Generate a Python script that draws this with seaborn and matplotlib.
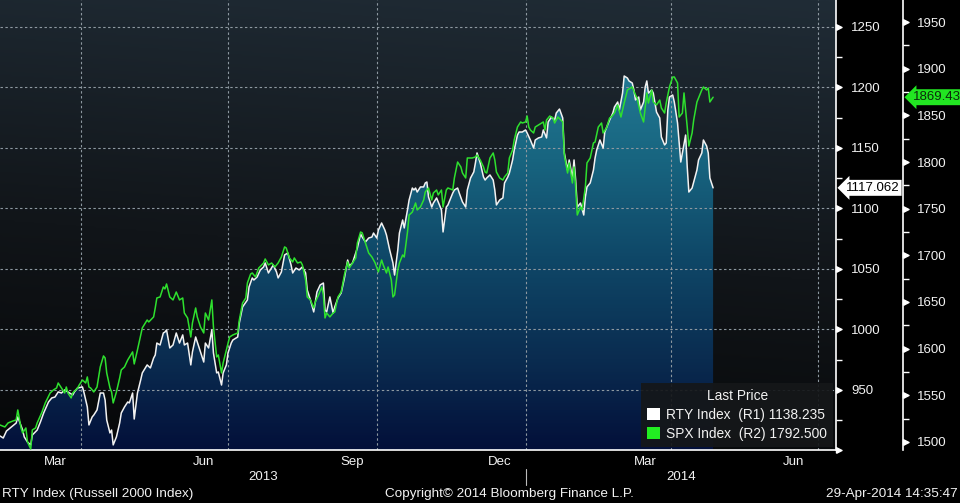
import numpy as np
import pandas as pd
import matplotlib
matplotlib.use("Agg")
import matplotlib.pyplot as plt
import matplotlib.dates as mdates
import matplotlib.transforms as mtrans
from matplotlib.colors import LinearSegmentedColormap
from matplotlib.patches import Patch
from matplotlib import font_manager
import seaborn as sns

# ---------------- data ----------------
BASE_DATE = "2013-02-10"   # day offsets below count from this date

rty_days = [0,2,4,7,10,11,14,15,17,19,20,23,25,27,30,32,34,36,38,40,42,45,46,48,51,52,54,55,57,58,60,62,64,65,66,68,69,70,72,74,75,77,79,80,82,83,85,87,88,91,93,95,96,97,99,101,102,103,105,107,109,111,113,114,116,118,119,121,123,126,127,129,131,132,134,135,137,138,140,141,143,144,147,148,150,153,154,156,157,159,161,163,164,166,169,171,172,174,176,178,180,181,183,185,187,189,190,192,194,195,196,198,200,201,202,204,206,207,209,211,213,215,216,218,221,223,224,226,228,230,231,233,234,236,238,239,241,243,244,246,247,249,250,252,253,255,256,257,258,260,262,263,264,265,267,268,270,271,273,274,276,277,280,281,283,284,286,288,289,291,293,294,295,297,299,300,301,303,305,306,307,309,311,312,314,315,317,318,320,321,323,325,326,328,330,331,333,335,336,338,339,341,343,344,346,348,349,351,352,354,355,356,357,359,361,362,363,365,367,368,369,371,373,374,375,377,379,380,382,383,385,386,388,389,391,392,393,395,396,398,399,400,401,403,404,406,408,409,411,412,413,414,416,417,419,421,422,424,425,426,428,429,431,432,434,435,437,438,439,441]
rty_vals = [912.0,910.3,916.1,919.4,922.7,927.7,916.9,911.2,907.0,904.6,912.8,916.9,923.6,931.0,940.1,943.4,944.2,948.4,947.5,950.0,948.4,945.9,948.4,951.7,952.5,947.5,936.0,921.1,927.7,929.3,933.5,947.5,947.5,941.7,925.2,914.5,916.9,904.6,911.2,922.7,931.0,936.0,940.1,939.3,947.5,926.0,947.5,958.3,964.1,970.7,968.2,976.4,978.9,988.8,987.2,997.1,997.9,999.6,984.7,987.2,997.1,988.8,995.5,987.2,988.8,970.7,981.4,993.8,985.5,973.1,988.8,984.7,999.6,980.6,964.1,964.9,954.1,964.1,970.7,980.6,988.8,991.3,993.8,1005.4,1018.6,1024.4,1035.1,1042.6,1040.9,1043.4,1049.2,1051.7,1055.0,1046.7,1053.3,1047.5,1042.6,1047.5,1061.6,1063.2,1053.3,1046.7,1050.8,1049.2,1051.7,1046.7,1032.6,1024.4,1014.5,1022.7,1031.0,1036.8,1038.4,1016.1,1014.5,1026.9,1013.6,1018.6,1026.0,1030.2,1042.6,1057.4,1052.5,1055.0,1067.4,1078.9,1076.4,1072.3,1075.6,1076.4,1079.7,1075.6,1082.2,1088.0,1082.2,1078.1,1065.7,1055.0,1045.0,1065.7,1079.7,1090.5,1083.9,1098.8,1107.0,1116.9,1115.3,1116.9,1113.6,1117.8,1117.8,1121.1,1121.9,1109.5,1101.2,1104.5,1108.7,1105.4,1098.8,1080.6,1101.2,1102.9,1112.8,1115.3,1116.9,1112.8,1105.4,1101.2,1115.3,1125.2,1130.2,1137.6,1145.9,1137.6,1126.0,1123.5,1125.2,1127.7,1123.5,1115.3,1102.9,1107.0,1108.7,1121.1,1126.0,1129.3,1140.1,1148.3,1160.7,1163.2,1163.2,1164.9,1162.4,1156.6,1150.0,1156.6,1158.3,1159.1,1164.9,1158.3,1171.5,1175.6,1173.1,1178.9,1182.2,1174.8,1145.9,1131.8,1140.1,1125.2,1140.1,1123.5,1101.2,1104.5,1094.6,1109.5,1117.8,1121.1,1131.8,1141.7,1148.3,1156.6,1150.0,1163.2,1166.5,1173.1,1178.9,1183.9,1188.0,1181.4,1195.4,1209.5,1207.8,1205.4,1203.7,1197.9,1189.7,1192.1,1181.4,1188.0,1200.4,1205.4,1195.4,1197.9,1195.4,1179.7,1174.8,1159.1,1152.5,1154.1,1181.4,1192.1,1193.8,1188.0,1170.7,1138.4,1145.9,1160.7,1134.3,1113.6,1116.9,1121.9,1131.8,1140.1,1145.9,1156.6,1151.6,1145.9,1125.2,1117.062]

spx_days = [0,3,5,8,10,11,13,14,16,17,19,20,22,23,26,28,31,33,35,36,38,40,41,42,44,45,48,49,51,53,54,55,56,58,60,62,64,65,66,68,69,70,72,74,75,77,79,82,83,85,87,88,91,92,95,96,97,99,101,102,103,105,107,109,111,113,114,116,118,119,121,122,124,126,127,129,131,132,134,135,137,138,140,142,144,147,148,150,152,153,155,156,158,160,163,164,166,168,170,172,174,176,177,179,181,182,184,186,187,189,190,192,194,195,197,199,200,201,202,204,206,207,209,211,213,215,216,218,220,221,223,224,226,228,230,232,234,236,237,239,240,242,243,244,246,247,249,250,252,253,255,257,258,260,262,263,265,267,268,270,271,273,274,276,277,280,281,283,285,286,288,289,292,294,295,297,299,300,301,303,305,306,307,309,311,312,314,315,317,318,320,322,323,325,326,327,328,330,331,333,336,337,338,340,342,343,345,348,349,351,352,354,355,356,357,359,360,362,363,365,367,368,370,372,373,375,377,378,380,382,384,386,388,390,391,393,394,396,398,399,400,401,403,404,406,408,409,411,412,414,416,417,419,420,422,423,425,426,428,429,431,432,434,435,437,438,439,441]
spx_vals = [1518.2,1516.1,1520.4,1522.5,1523.6,1534.3,1515.0,1509.7,1515.0,1500.0,1492.5,1512.9,1515.0,1520.4,1532.2,1541.8,1552.5,1555.7,1557.9,1563.2,1557.9,1552.5,1558.9,1552.5,1547.2,1552.5,1557.9,1561.1,1566.4,1563.2,1569.7,1558.9,1557.9,1553.6,1558.9,1580.4,1592.2,1590.0,1574.0,1557.9,1553.6,1541.8,1553.6,1568.6,1577.2,1580.4,1587.9,1596.5,1583.6,1598.6,1614.7,1622.2,1630.7,1628.6,1634.0,1643.6,1654.3,1655.4,1666.1,1664.0,1669.3,1655.4,1652.2,1660.7,1652.2,1654.3,1638.2,1632.9,1612.5,1627.5,1643.6,1634.0,1623.2,1616.8,1638.2,1630.7,1652.2,1623.2,1591.1,1593.2,1574.0,1584.7,1598.6,1612.5,1614.7,1616.8,1630.7,1648.9,1654.3,1670.4,1680.0,1681.1,1676.8,1686.4,1691.8,1696.1,1689.7,1691.8,1687.5,1691.8,1698.2,1709.0,1707.9,1697.2,1692.9,1697.2,1691.8,1692.9,1689.7,1673.6,1655.4,1652.2,1643.6,1650.0,1657.5,1666.1,1657.5,1632.9,1638.2,1634.0,1638.2,1639.3,1655.4,1660.7,1679.0,1692.9,1686.4,1691.8,1697.2,1713.2,1725.0,1724.0,1713.2,1702.5,1698.2,1691.8,1682.2,1695.0,1689.7,1681.1,1687.5,1673.6,1655.4,1657.5,1684.3,1691.8,1700.4,1698.2,1725.0,1743.2,1746.4,1756.1,1748.6,1751.8,1759.3,1767.9,1772.2,1759.3,1766.8,1770.0,1764.7,1770.0,1751.8,1770.0,1772.2,1770.0,1782.9,1800.0,1794.7,1788.2,1782.9,1804.3,1804.3,1805.4,1807.5,1802.2,1794.7,1789.3,1788.2,1804.3,1809.7,1802.2,1789.3,1782.9,1780.7,1784.0,1788.2,1804.3,1812.9,1823.6,1837.5,1842.9,1841.8,1842.9,1849.3,1837.5,1834.3,1831.1,1837.5,1839.7,1842.9,1834.3,1845.0,1849.3,1847.2,1841.8,1848.2,1842.9,1807.5,1788.2,1799.0,1777.5,1794.7,1773.2,1743.2,1751.8,1748.6,1773.2,1799.0,1804.3,1820.4,1821.4,1837.5,1841.8,1831.1,1836.4,1847.2,1848.2,1852.5,1861.1,1848.2,1863.2,1877.2,1879.3,1880.4,1871.8,1868.6,1852.5,1842.9,1859.0,1874.0,1863.2,1877.2,1864.3,1861.1,1866.4,1857.9,1852.5,1863.2,1880.4,1891.1,1891.1,1884.7,1848.2,1852.5,1874.0,1837.5,1817.1,1831.1,1845.0,1864.3,1868.6,1877.2,1880.4,1877.2,1879.3,1864.3,1869.43]

rty_ticks = [900, 950, 1000, 1050, 1100, 1150, 1200, 1250]
rty_tick_labels = ["", "950", "1000", "1050", "1100", "1150", "1200", "1250"]
spx_ticks = [1500, 1550, 1600, 1650, 1700, 1750, 1800, 1850, 1900, 1950]
spx_tick_labels = [str(t) for t in spx_ticks]
rty_last_tag = 1117.062
spx_last_tag = 1869.43
rty_tag_text = "1117.062"
spx_tag_text = "1869.43"

month_labels = ["Mar", "Jun", "Sep", "Dec", "Mar", "Jun"]
month_label_dates = ["2013-03-16", "2013-06-16", "2013-09-16", "2013-12-16", "2014-03-16", "2014-06-16"]
quarter_grid_dates = ["2013-04-01", "2013-07-01", "2013-10-01", "2014-01-01", "2014-04-01", "2014-07-01"]
year_labels = ["2013", "2014"]
year_break = "2014-01-01"
x_start, x_end = "2013-02-10", "2014-07-12"

legend_title = "Last Price"
legend_labels = ["RTY Index  (R1) 1138.235", "SPX Index  (R2) 1792.500"]
footer_left = "RTY Index (Russell 2000 Index)"
footer_mid = "Copyright\u00a9 2014 Bloomberg Finance L.P."
footer_right = "29-Apr-2014 14:35:47"

# ---------------- style ----------------
sns.set_style("dark")
names = {f.name for f in font_manager.fontManager.ttflist}
if "Liberation Sans Narrow" in names:
    FONT, FS, FS_FOOT, FS_LEG = "Liberation Sans Narrow", 11.0, 11.5, 11.5
else:
    FONT, FS, FS_FOOT, FS_LEG = "Liberation Sans", 9.5, 9.7, 9.9
plt.rcParams["font.family"] = [FONT, "DejaVu Sans"]

WHITE = "#f2f2f2"
GREEN = "#2ee02e"
GRID = "#8d98a0"

base = pd.Timestamp(BASE_DATE)
rty = pd.DataFrame({"date": base + pd.to_timedelta(rty_days, unit="D"), "value": rty_vals})
spx = pd.DataFrame({"date": base + pd.to_timedelta(spx_days, unit="D"), "value": spx_vals})

fig = plt.figure(figsize=(9.6, 5.03), dpi=100, facecolor="black")
ax = fig.add_axes([0, 1 - 450 / 503, 836 / 960, 450 / 503])
ax.set_facecolor("black")

RTY_LIM = (900.4, 1272.3)
SPX_LIM = (1491.4, 1973.6)
ax.set_ylim(*RTY_LIM)
ax.set_xlim(pd.Timestamp(x_start), pd.Timestamp(x_end))

# background gradient
fy = np.linspace(1, 0, 300)[:, None]
fx = np.linspace(0, 1, 300)[None, :]
bg_cmap = LinearSegmentedColormap.from_list("bg", [(0, "#060708"), (0.45, "#111519"), (1, "#202c36")])
ax.imshow(0.88 * fy + 0.12 * fx, cmap=bg_cmap, vmin=0, vmax=1, extent=(0, 1, 0, 1),
          transform=ax.transAxes, aspect="auto", zorder=0, interpolation="bilinear")

# area under RTY with vertical gradient
poly = ax.fill_between(rty["date"], rty["value"], RTY_LIM[0], facecolor="none", edgecolor="none")
fill_cmap = LinearSegmentedColormap.from_list(
    "fill", [(0, "#03103a"), (0.2, "#0a2c50"), (0.43, "#0f4868"), (0.65, "#186580"), (1.0, "#2b8aa4")])
im = ax.imshow(np.linspace(1, 0, 300)[:, None], cmap=fill_cmap, vmin=0, vmax=1, extent=(0, 1, 0, 1),
               transform=ax.transAxes, aspect="auto", zorder=0.6, interpolation="bilinear")
im.set_clip_path(poly.get_paths()[0], transform=ax.transData)
ax.set_ylim(*RTY_LIM)
ax.set_xlim(pd.Timestamp(x_start), pd.Timestamp(x_end))

# grid
for t in rty_ticks:
    ax.axhline(t, color=GRID, lw=0.8, ls=(0, (2.2, 2.2)), zorder=1)
for d in quarter_grid_dates:
    ax.axvline(pd.Timestamp(d), color=GRID, lw=0.8, ls=(0, (2.2, 2.2)), zorder=1)

# RTY line
sns.lineplot(data=rty, x="date", y="value", ax=ax, color=WHITE, lw=1.1, zorder=3)

# SPX on second right axis
ax2 = ax.twinx()
ax2.patch.set_visible(False)
sns.lineplot(data=spx, x="date", y="value", ax=ax2, color=GREEN, lw=1.1, zorder=3)
ax2.set_ylim(*SPX_LIM)
ax.set_xlim(pd.Timestamp(x_start), pd.Timestamp(x_end))

for a in (ax, ax2):
    a.set_xlabel("")
    a.set_ylabel("")
    for s in a.spines.values():
        s.set_visible(False)

# spines
ax.spines["right"].set_visible(True)
ax.spines["right"].set_color("white")
ax.spines["right"].set_linewidth(1.2)
ax.spines["bottom"].set_visible(True)
ax.spines["bottom"].set_color("white")
ax.spines["bottom"].set_linewidth(1.2)
ax2.spines["right"].set_visible(True)
ax2.spines["right"].set_position(("axes", 903 / 836))
ax2.spines["right"].set_color("white")
ax2.spines["right"].set_linewidth(1.2)

# y ticks
tri = [(0, -0.5), (1, 0), (0, 0.5), (0, -0.5)]
ax.yaxis.tick_right()
ax.set_yticks(rty_ticks)
ax.set_yticklabels(rty_tick_labels)
ax.set_yticks([t + 25 for t in rty_ticks], minor=True)
ax.tick_params(axis="y", which="major", length=0, pad=11, labelcolor=WHITE, labelsize=FS)
ax.tick_params(axis="y", which="minor", length=4, width=1, color="white", direction="out")
ax2.set_yticks(spx_ticks)
ax2.set_yticklabels(spx_tick_labels)
ax2.set_yticks([t + 25 for t in spx_ticks], minor=True)
ax2.tick_params(axis="y", which="major", length=0, pad=10, labelcolor=WHITE, labelsize=FS)
ax2.tick_params(axis="y", which="minor", length=4, width=1, color="white", direction="out")
ax2.set_ylim(*SPX_LIM)
ax.set_ylim(*RTY_LIM)

bt1 = mtrans.blended_transform_factory(ax.transAxes, ax.transData)
ax.plot([1.0] * len(rty_ticks), rty_ticks, transform=bt1, ls="none", marker=tri, ms=8,
        color="white", clip_on=False, zorder=5)
bt2 = mtrans.blended_transform_factory(ax2.transAxes, ax2.transData)
ax2.plot([903 / 836] * len(spx_ticks), spx_ticks, transform=bt2, ls="none", marker=tri, ms=8,
         color="white", clip_on=False, zorder=5)
ax2.set_ylim(*SPX_LIM)
ax.set_ylim(*RTY_LIM)

# x ticks: month starts as tick marks, labels placed mid-month
ax.xaxis.set_major_locator(mdates.MonthLocator())
ax.xaxis.set_major_formatter(plt.NullFormatter())
ax.tick_params(axis="x", which="major", length=5, width=1, color="white", direction="out")
ax2.tick_params(axis="x", length=0, labelbottom=False)
ax.set_xlim(pd.Timestamp(x_start), pd.Timestamp(x_end))

btx = mtrans.blended_transform_factory(ax.transData, ax.transAxes)
yl = -(462 - 450) / 450
for lab, d in zip(month_labels, month_label_dates):
    ax.text(pd.Timestamp(d), yl, lab, transform=btx, ha="center", va="center",
            color=WHITE, fontsize=FS)
x0n = mdates.date2num(pd.Timestamp(x_start))
x1n = mdates.date2num(pd.Timestamp(x_end))
xbn = mdates.date2num(pd.Timestamp(year_break))
yy = -(477 - 450) / 450
ax.text((x0n + xbn) / 2, yy, year_labels[0], transform=btx, ha="center", va="center", color=WHITE, fontsize=FS)
ax.text((xbn + x1n) / 2, yy, year_labels[1], transform=btx, ha="center", va="center", color=WHITE, fontsize=FS)
ax.plot([xbn, xbn], [-(469 - 450) / 450, -(485 - 450) / 450], transform=btx, color="#bbbbbb",
        lw=0.8, clip_on=False)

# last-value tags
ax.text(1 + 10 / 836, rty_last_tag, rty_tag_text, transform=bt1, ha="left", va="center",
        color="black", fontsize=FS, zorder=6,
        bbox=dict(boxstyle="larrow,pad=0.15", fc="white", ec="none"))
ax2.text(913 / 836, spx_last_tag, spx_tag_text, transform=bt2, ha="left", va="center",
         color="#0b2b0b", fontsize=FS, zorder=6,
         bbox=dict(boxstyle="larrow,pad=0.15", fc="#22e622", ec="none"))

# legend
handles = [Patch(facecolor="white", edgecolor="none"), Patch(facecolor="#22ee22", edgecolor="none")]
leg = ax2.legend(handles=handles, labels=legend_labels, title=legend_title, loc="lower right",
                 bbox_to_anchor=(833 / 836, 3 / 450), frameon=True, facecolor="#151719",
                 edgecolor="none", framealpha=0.92, fontsize=FS_LEG, title_fontsize=FS_LEG,
                 handlelength=0.95, handleheight=0.95, handletextpad=0.4, labelspacing=0.35,
                 borderpad=0.45, borderaxespad=0)
leg.get_title().set_color(WHITE)
for t in leg.get_texts():
    t.set_color(WHITE)
leg.get_frame().set_boxstyle("square", pad=0)
leg.set_zorder(10)

# footer
fy_foot = 1 - 494 / 503
fig.text(2 / 960, fy_foot, footer_left, ha="left", va="center", color=WHITE, fontsize=FS_FOOT)
fig.text(509 / 960, fy_foot, footer_mid, ha="center", va="center", color=WHITE, fontsize=FS_FOOT)
fig.text(958 / 960, fy_foot, footer_right, ha="right", va="center", color=WHITE, fontsize=FS_FOOT)

fig.savefig("out.png", dpi=100, facecolor="black")
